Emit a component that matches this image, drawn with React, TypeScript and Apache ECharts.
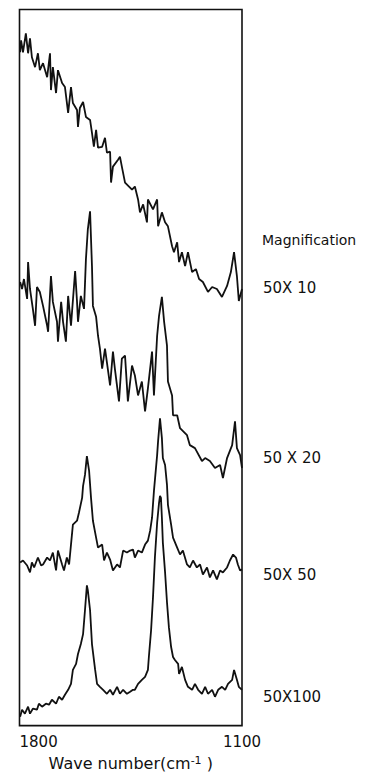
import React, { useEffect, useRef } from "react";
import * as echarts from "echarts";

// Raman spectra, wavenumber (cm-1) vs intensity (arbitrary units, stacked)
const mag10: number[][] = [
  [1798, 677], [1795, 689], [1789, 677], [1780, 696], [1773, 676], [1767, 691], [1761, 672],
  [1751, 662], [1742, 676], [1736, 659], [1726, 666], [1713, 652], [1704, 676], [1701, 639],
  [1695, 662], [1685, 636], [1679, 659], [1666, 646], [1657, 642], [1647, 616], [1638, 642],
  [1632, 626], [1619, 619], [1616, 602], [1610, 621], [1600, 627], [1591, 612], [1578, 609],
  [1572, 596], [1566, 582], [1559, 599], [1553, 581], [1540, 582], [1531, 591], [1525, 576],
  [1515, 577], [1512, 546], [1506, 562], [1490, 569], [1484, 572], [1478, 562], [1468, 546],
  [1446, 539], [1437, 542], [1427, 529], [1421, 516], [1411, 524], [1399, 506], [1396, 529],
  [1380, 519], [1367, 529], [1364, 502], [1352, 516], [1342, 506], [1333, 502], [1320, 482],
  [1314, 476], [1304, 486], [1298, 466], [1289, 476], [1279, 462], [1270, 476], [1257, 456],
  [1245, 459], [1235, 449], [1223, 446], [1207, 436], [1194, 441], [1179, 439], [1163, 431],
  [1147, 442], [1135, 456], [1125, 476], [1116, 452], [1110, 427], [1100, 439],
];

const mag20: number[][] = [
  [1798, 446], [1792, 439], [1786, 449], [1776, 429], [1773, 466], [1767, 439], [1758, 419],
  [1751, 402], [1745, 441], [1736, 436], [1726, 422], [1713, 402], [1710, 396], [1701, 452],
  [1695, 426], [1682, 406], [1679, 386], [1669, 426], [1663, 406], [1654, 386], [1647, 432],
  [1638, 402], [1625, 457], [1619, 426], [1616, 406], [1607, 432], [1597, 419], [1591, 469],
  [1585, 499], [1578, 517], [1572, 462], [1569, 422], [1559, 411], [1553, 392], [1547, 379],
  [1540, 359], [1531, 379], [1515, 342], [1506, 376], [1500, 359], [1487, 326], [1478, 369],
  [1468, 372], [1459, 326], [1446, 362], [1437, 352], [1427, 332], [1415, 346], [1405, 316],
  [1396, 339], [1383, 376], [1377, 332], [1367, 392], [1361, 412], [1352, 431], [1345, 406],
  [1336, 382], [1333, 346], [1320, 332], [1317, 312], [1304, 312], [1295, 299], [1273, 292],
  [1264, 282], [1248, 279], [1226, 266], [1216, 269], [1201, 266], [1185, 259], [1169, 262],
  [1160, 249], [1147, 269], [1131, 282], [1122, 306], [1116, 279], [1106, 272], [1100, 259],
];

const mag50: number[][] = [
  [1798, 164], [1789, 166], [1776, 161], [1767, 154], [1761, 164], [1754, 159], [1742, 169],
  [1732, 161], [1726, 162], [1713, 169], [1704, 166], [1695, 174], [1685, 156], [1679, 176],
  [1666, 162], [1660, 156], [1651, 169], [1644, 162], [1638, 182], [1632, 202], [1619, 206],
  [1613, 214], [1603, 229], [1600, 241], [1594, 252], [1588, 271], [1581, 256], [1575, 229],
  [1569, 206], [1559, 189], [1553, 179], [1540, 182], [1534, 166], [1525, 174], [1515, 167],
  [1506, 156], [1493, 162], [1484, 159], [1474, 176], [1462, 174], [1452, 176], [1443, 177],
  [1437, 169], [1427, 176], [1415, 174], [1405, 182], [1396, 186], [1389, 196], [1383, 209],
  [1377, 236], [1367, 272], [1364, 286], [1358, 309], [1352, 289], [1349, 269], [1342, 262],
  [1336, 242], [1333, 222], [1323, 202], [1317, 189], [1304, 179], [1295, 172], [1286, 176],
  [1273, 162], [1264, 159], [1254, 166], [1242, 159], [1232, 162], [1223, 152], [1210, 159],
  [1201, 149], [1191, 156], [1179, 147], [1169, 156], [1160, 154], [1147, 159], [1138, 166],
  [1128, 172], [1119, 169], [1113, 162], [1106, 156], [1100, 157],
];

const mag100: number[][] = [
  [1798, 9], [1792, 16], [1783, 12], [1773, 19], [1767, 12], [1758, 17], [1745, 16],
  [1739, 22], [1729, 19], [1717, 22], [1707, 21], [1698, 26], [1685, 22], [1676, 29],
  [1666, 26], [1657, 31], [1647, 36], [1638, 42], [1632, 56], [1622, 62], [1616, 72],
  [1607, 82], [1600, 92], [1594, 116], [1588, 141], [1585, 136], [1578, 116], [1572, 82],
  [1562, 56], [1556, 42], [1547, 39], [1537, 36], [1525, 32], [1515, 36], [1506, 31],
  [1493, 39], [1484, 32], [1474, 36], [1462, 32], [1452, 34], [1443, 36], [1437, 36],
  [1427, 42], [1415, 46], [1405, 49], [1396, 56], [1393, 69], [1386, 96], [1380, 129],
  [1374, 169], [1367, 204], [1361, 224], [1358, 231], [1355, 229], [1352, 209], [1349, 184],
  [1342, 154], [1336, 124], [1330, 99], [1323, 79], [1317, 69], [1311, 66], [1301, 62],
  [1298, 52], [1289, 59], [1279, 46], [1270, 39], [1257, 36], [1248, 42], [1238, 36],
  [1226, 32], [1216, 39], [1207, 32], [1194, 36], [1185, 29], [1175, 36], [1163, 39],
  [1153, 36], [1144, 42], [1131, 46], [1125, 56], [1116, 46], [1110, 39], [1100, 36],
];

const seriesNames = ["50X 10", "50 X 20", "50X 50", "50X100"];
const legendTitle = "Magnification";
const xMin = 1100;
const xMax = 1800;

const FONT = "DejaVu Sans";

export default function App() {
  const ref = useRef<HTMLDivElement>(null);

  useEffect(() => {
    if (!ref.current) return;
    const chart = echarts.init(ref.current, null, { renderer: "svg" });
    const gridLeft = 19.5;
    const gridTop = 9.5;
    const gridW = 222.5;
    const gridH = 719.5;
    const allSeries = [mag10, mag20, mag50, mag100];
    const labelY = [288, 458, 575, 697];

    chart.setOption({
      animation: false,
      backgroundColor: "#ffffff",
      grid: {
        left: gridLeft,
        top: gridTop,
        width: gridW,
        height: gridH,
        show: true,
        borderColor: "#111",
        borderWidth: 1.6,
        backgroundColor: "transparent",
      },
      xAxis: {
        type: "value",
        inverse: true,
        min: xMin,
        max: xMax,
        interval: xMax - xMin,
        axisLine: { show: false },
        axisTick: { show: false },
        splitLine: { show: false },
        axisLabel: {
          margin: 9,
          fontFamily: FONT,
          fontSize: 15,
          color: "#111",
          alignMaxLabel: "left",
          alignMinLabel: "center",
          formatter: (v: number) => String(v),
        },
        name: "{t|Wave number(cm}{s|-1}{t| )}",
        nameLocation: "middle",
        nameGap: 21,
        nameTextStyle: {
          rich: {
            t: { fontFamily: FONT, fontSize: 16, color: "#111" },
            s: { fontFamily: FONT, fontSize: 11, color: "#111", verticalAlign: "top", padding: [0, 0, 6, 0] },
          },
        },
      },
      yAxis: {
        type: "value",
        min: 0,
        max: 720,
        show: false,
      },
      series: allSeries.map((d, i) => ({
        name: seriesNames[i],
        type: "line",
        data: d,
        showSymbol: false,
        symbol: "none",
        lineStyle: { color: "#111", width: 1.8 },
        z: 3,
      })),
      graphic: [
        {
          type: "text",
          x: 262,
          y: 240,
          style: {
            text: legendTitle,
            fontFamily: FONT,
            fontSize: 14,
            fill: "#111",
            verticalAlign: "middle",
          },
        },
        ...seriesNames.map((n, i) => ({
          type: "text",
          x: 263,
          y: labelY[i],
          style: {
            text: n,
            fontFamily: FONT,
            fontSize: 15,
            fill: "#111",
            verticalAlign: "middle",
          },
        })),
      ],
    });
    return () => chart.dispose();
  }, []);

  return (
    <div
      ref={ref}
      style={{ position: "fixed", left: 0, top: 0, width: 374, height: 776 }}
    />
  );
}
